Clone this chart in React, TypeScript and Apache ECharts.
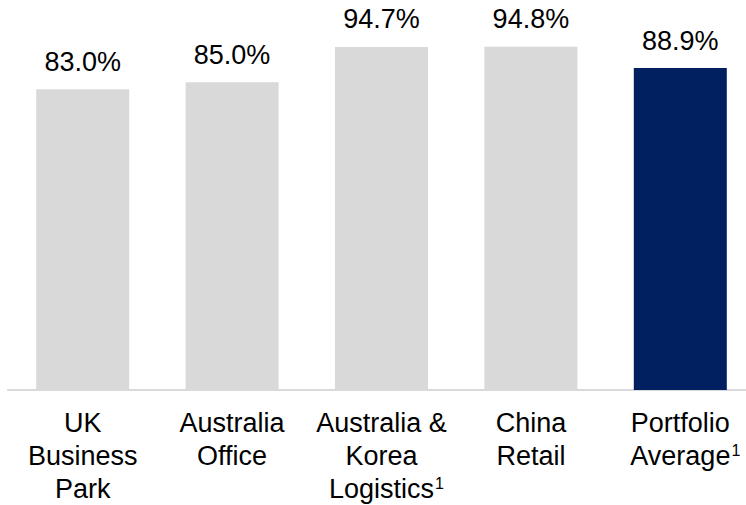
import React, { useEffect, useRef } from "react";
import * as echarts from "echarts";

const categories = [
  "UK\nBusiness\nPark",
  "Australia\nOffice",
  "Australia &\nKorea\nLogistics{sup|1}",
  "China\nRetail",
  "Portfolio\nAverage{sup|1}",
];
const values = [83.0, 85.0, 94.7, 94.8, 88.9];
const barColors = ["#d9d9d9", "#d9d9d9", "#d9d9d9", "#d9d9d9", "#002060"];

export default function App() {
  const ref = useRef<HTMLDivElement>(null);
  useEffect(() => {
    if (!ref.current) return;
    const chart = echarts.init(ref.current, null, { renderer: "svg" });
    chart.setOption({
      animation: false,
      grid: {
        left: 8,
        right: -9,
        top: 27.8,
        bottom: 115,
        containLabel: false,
        outerBoundsMode: "none",
      },
      xAxis: {
        type: "category",
        data: categories,
        axisLine: { show: true, lineStyle: { color: "#d9d9d9", width: 2 } },
        axisTick: { show: false },
        axisLabel: {
          interval: 0,
          margin: 16,
          color: "#000",
          fontSize: 27,
          lineHeight: 33,
          fontFamily: "Liberation Sans, Arial, sans-serif",
          rich: {
            sup: {
              fontSize: 16,
              lineHeight: 33,
              color: "#000",
              fontFamily: "Liberation Sans, Arial, sans-serif",
              padding: [0, -10, 10, 1],
            },
          },
        },
      },
      yAxis: {
        type: "value",
        min: 0,
        max: 100,
        show: false,
        splitLine: { show: false },
      },
      series: [
        {
          type: "bar",
          barWidth: 93,
          data: values.map((v, i) => ({
            value: v,
            itemStyle: { color: barColors[i] },
          })),
          label: {
            show: true,
            position: "top",
            distance: 14,
            color: "#000",
            fontSize: 27,
            fontFamily: "Liberation Sans, Arial, sans-serif",
            formatter: (p: any) => p.value.toFixed(1) + "%",
          },
        },
      ],
    });
    return () => chart.dispose();
  }, []);
  return (
    <div
      ref={ref}
      style={{ position: "absolute", left: 0, top: 0, width: 746, height: 505 }}
    />
  );
}
